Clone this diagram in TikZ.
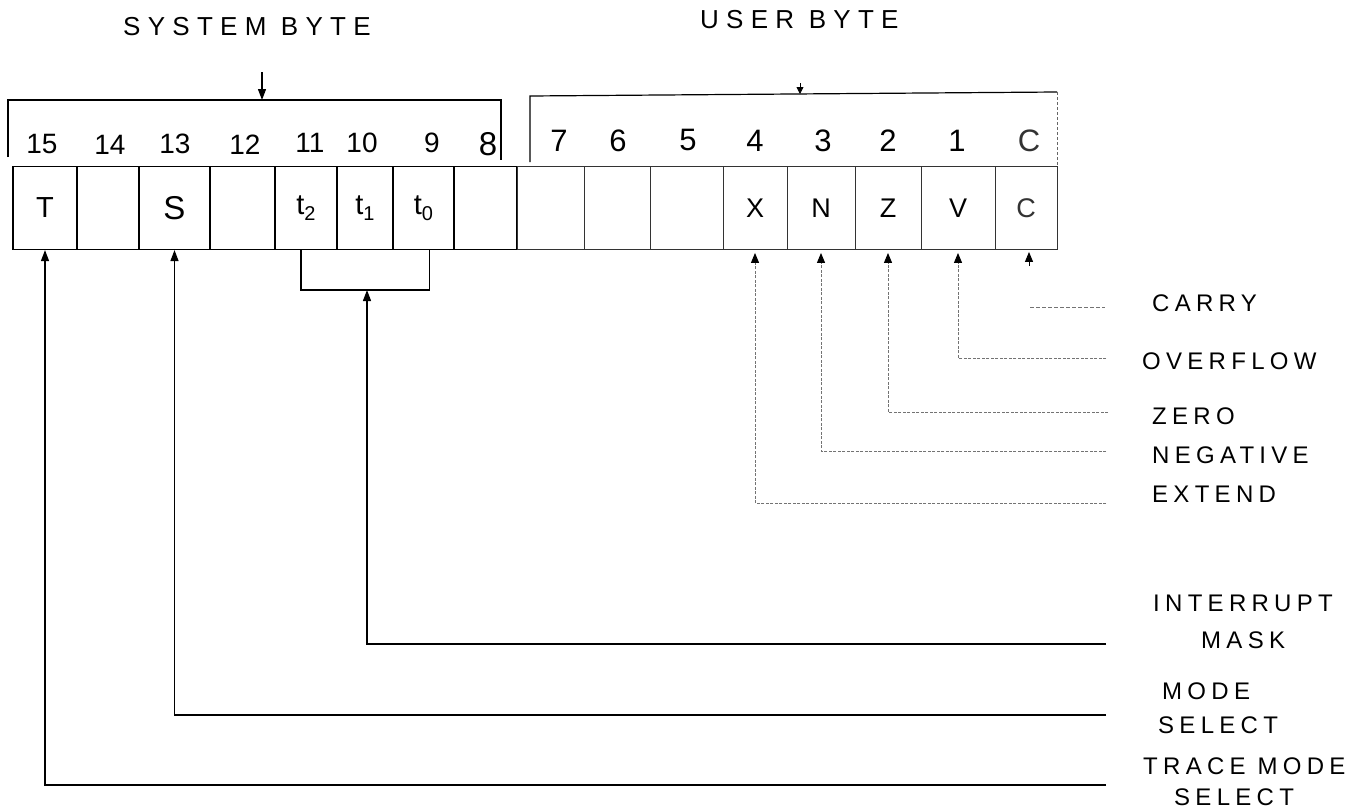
\documentclass[tikz,border=0pt]{standalone}
\usepackage{fontspec}
\newfontfamily\hand[LetterSpace=22]{Liberation Sans}
\newfontfamily\handt[LetterSpace=28]{Liberation Sans}
\newfontfamily\handn{Liberation Sans}
\usetikzlibrary{arrows.meta}
\begin{document}
\begin{tikzpicture}[x=1pt,y=-1pt,
  syscell/.style={draw, line width=1.2pt, minimum height=83pt, inner sep=0pt, font=\handn\fontsize{29}{31}\selectfont},
  usrcell/.style={draw=black!80, line width=0.9pt, minimum height=83pt, inner sep=0pt, font=\handn\fontsize{27}{29}\selectfont},
  bitnum/.style={inner sep=0pt, font=\handn\fontsize{28}{30}\selectfont},
  ubitnum/.style={inner sep=0pt, font=\handn\fontsize{31}{33}\selectfont},
  title/.style={inner sep=0pt, anchor=west, font=\handt\fontsize{26}{28}\selectfont},
  lab/.style={inner sep=0pt, anchor=west, font=\hand\fontsize{24}{26}\selectfont},
  bracketline/.style={line width=1.2pt},
  conn/.style={line width=1.3pt, -{Triangle[length=11pt,width=8pt]}},
  faint/.style={line width=1pt, draw=black!55, dash pattern=on 3pt off 1.5pt, -{Triangle[length=10pt,width=8pt,color=black]}, shorten >=3pt}]
\useasboundingbox (0,0) rectangle (1360,811);
\fill[white] (0,0) rectangle (1360,811);

% titles
\node[title] (tsys) at (123,27) {SYSTEM BYTE};
\node[title] (tusr) at (700,20) {USER BYTE};

% cells (system byte)
\node[syscell, minimum width=64pt] (b15) at (45,208) {T};
\node[syscell, minimum width=62pt] (b14) at (108,208) {};
\node[syscell, minimum width=71pt, font=\handn\fontsize{33}{35}\selectfont] (b13) at (174.5,208) {S};
\node[syscell, minimum width=65pt] (b12) at (242.5,208) {};
\node[syscell, minimum width=62pt] (b11) at (306,208) {t\raisebox{-0.4ex}{\fontsize{20}{20}\selectfont 2}};
\node[syscell, minimum width=56pt] (b10) at (365,208) {t\raisebox{-0.4ex}{\fontsize{20}{20}\selectfont 1}};
\node[syscell, minimum width=61pt] (b9) at (423.5,208) {t\raisebox{-0.4ex}{\fontsize{20}{20}\selectfont 0}};
\node[syscell, minimum width=63pt] (b8) at (485.5,208) {};
% cells (user byte)
\node[usrcell, minimum width=67pt] (b7) at (550.5,208) {};
\node[usrcell, minimum width=66pt] (b6) at (617,208) {};
\node[usrcell, minimum width=73pt] (b5) at (686.5,208) {};
\node[usrcell, minimum width=64pt] (b4) at (755,208) {X};
\node[usrcell, minimum width=68pt] (b3) at (821,208) {N};
\node[usrcell, minimum width=66pt] (b2) at (888,208) {Z};
\node[usrcell, minimum width=74pt] (b1) at (958,208) {V};
\node[usrcell, minimum width=62pt, text=black!80] (b0) at (1026,208) {C};

% bit numbers
\node[bitnum] (n15) at (42,144) {15};
\node[bitnum] (n14) at (110,145) {14};
\node[bitnum] (n13) at (175,144) {13};
\node[bitnum] (n12) at (245,145) {12};
\node[bitnum] (n11) at (310,143) {11};
\node[bitnum] (n10) at (362,143) {10};
\node[bitnum] (n9) at (432,143) {9};
\node[bitnum, font=\handn\fontsize{33}{35}\selectfont] (n8) at (488,144) {8};
\node[ubitnum] (n7) at (559,141) {7};
\node[ubitnum] (n6) at (618,141) {6};
\node[ubitnum] (n5) at (688,140) {5};
\node[ubitnum] (n4) at (755,141) {4};
\node[ubitnum] (n3) at (823,141) {3};
\node[ubitnum] (n2) at (888,141) {2};
\node[ubitnum] (n1) at (957,141) {1};
\node[ubitnum, text=black!80] (n0) at (1029,141) {C};

% byte brackets
\coordinate (sysBL) at (8,157);
\coordinate (sysTL) at (8,100);
\coordinate (sysTR) at (501,100);
\coordinate (sysBR) at (501,160);
\draw[bracketline] (sysBL) -- (sysTL) -- (sysTR) -- (sysBR);
\coordinate (sysArrowTop) at (262,72);
\coordinate (sysArrowEnd) at (262,100);
\draw[conn] (sysArrowTop) -- (sysArrowEnd);

\coordinate (usrBL) at (530,162);
\coordinate (usrTL) at (530,96);
\coordinate (usrTR) at (1057,92);
\coordinate (usrBR) at (1057,166);
\draw[bracketline] (usrBL) -- (usrTL) -- (usrTR);
\draw[line width=1pt, draw=black!60, dash pattern=on 3pt off 2pt] (usrTR) -- (usrBR);
\coordinate (usrTickTop) at (800,83);
\coordinate (usrTickEnd) at (800,94);
\draw[line width=0.8pt, -{Triangle[length=7pt,width=7pt]}] (usrTickTop) -- (usrTickEnd);

% labels on the right
\node[lab] (lC) at (1152,303) {CARRY};
\node[lab] (lV) at (1142,361) {OVERFLOW};
\node[lab] (lZ) at (1152,416) {ZERO};
\node[lab] (lN) at (1152,455) {NEGATIVE};
\node[lab] (lX) at (1152,494) {EXTEND};
\node[lab] (lI1) at (1153,603) {INTERRUPT};
\node[lab] (lI2) at (1201,640) {MASK};
\node[lab] (lS1) at (1162,691) {MODE};
\node[lab] (lS2) at (1158,725) {SELECT};
\node[lab] (lT1) at (1143,766) {TRACE MODE};
\node[lab] (lT2) at (1174,797) {SELECT};

% connector end points on the right
\coordinate (eC1) at (1030,307);
\coordinate (eC2) at (1105,307);
\coordinate (eV) at (1106,358);
\coordinate (eZ) at (1108,412);
\coordinate (eN) at (1106,451);
\coordinate (eX) at (1106,503);
\coordinate (eI) at (1106,644);
\coordinate (eS) at (1106,715);
\coordinate (eT) at (1106,785);

% carry: short line and arrowhead under C
\draw[line width=1pt, draw=black!55, dash pattern=on 4pt off 2pt] (eC1) -- (eC2);
\coordinate (cTail) at (1029,266);
\draw[line width=1pt, -{Triangle[length=10pt,width=8pt]}, shorten >=2pt] (cTail) -- (b0.south -| cTail);

% flag connectors (faint)
\draw[faint] (eV) -| (b1.south);
\draw[faint] (eZ) -| (b2.south);
\draw[faint] (eN) -| (b3.south);
\draw[faint] (eX) -| (b4.south);

% interrupt mask bracket
\coordinate (tL) at ([xshift=-5pt]b11.south);
\coordinate (tR) at ([xshift=6pt]b9.south);
\coordinate (tBar) at (367,290);
\draw[line width=1.2pt] (tL) |- (tBar) -| (tR);
\draw[conn] (eI) -| (tBar);

% mode select and trace
\draw[conn] (eS) -| (b13.south);
\draw[conn] (eT) -| (b15.south);
\end{tikzpicture}
\end{document}
